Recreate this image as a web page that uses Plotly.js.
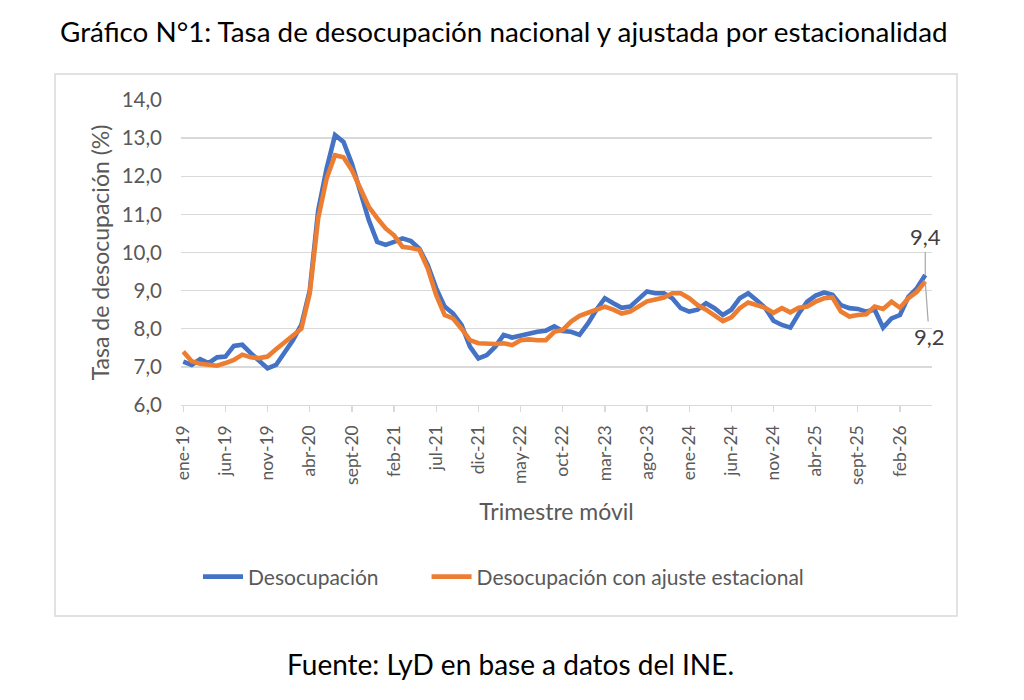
<!DOCTYPE html>
<html lang="es">
<head>
<meta charset="utf-8">
<script src="https://cdn.plot.ly/plotly-3.0.1.min.js"></script>
<style>
  html, body { margin: 0; padding: 0; background: #fff; }
  #chart { width: 1024px; height: 700px; }
</style>
</head>
<body>
<div id="chart"></div>
<script>
// Gráfico N°1 - desocupación nacional vs. ajustada por estacionalidad

const MONTHS = ["ene", "feb", "mar", "abr", "may", "jun", "jul", "ago", "sept", "oct", "nov", "dic"];
const YEARS = ["19", "20", "21", "22", "23", "24", "25", "26"];

// tasa de desocupación (%), trimestre móvil desde ene-19
const desocupacion = [
    7.14, 7.05, 7.20, 7.10, 7.25, 7.27, 7.55, 7.58, 7.36, 7.14, 6.96, 7.05,
    7.36, 7.70, 8.10, 9.00, 11.10, 12.20, 13.08, 12.90, 12.33, 11.60, 10.85, 10.28,
    10.20, 10.28, 10.37, 10.30, 10.10, 9.67, 9.06, 8.58, 8.40, 8.10, 7.53, 7.22,
    7.31, 7.53, 7.84, 7.77, 7.82, 7.90, 7.92, 7.95, 8.06, 7.94, 7.92, 7.84,
    8.14, 8.50, 8.80, 8.67, 8.55, 8.58, 8.80, 8.98, 8.93, 8.93, 8.80, 8.54,
    8.45, 8.50, 8.67, 8.54, 8.36, 8.50, 8.80, 8.93, 8.75, 8.55, 8.21, 8.10,
    8.03, 8.40, 8.71, 8.87, 8.95, 8.89, 8.62, 8.54, 8.52, 8.45, 8.50, 8.03,
    8.27, 8.36, 8.84, 9.06, 9.41
];

const ajustada = [
    7.40, 7.15, 7.08, 7.05, 7.03, 7.10, 7.18, 7.32, 7.25, 7.23, 7.27, 7.46,
    7.64, 7.80, 8.00, 8.93, 10.90, 11.94, 12.55, 12.50, 12.16, 11.68, 11.20, 10.90,
    10.63, 10.45, 10.15, 10.12, 10.07, 9.58, 8.88, 8.36, 8.27, 8.00, 7.70, 7.62,
    7.60, 7.60, 7.62, 7.57, 7.70, 7.72, 7.70, 7.70, 7.92, 7.97, 8.19, 8.34,
    8.42, 8.50, 8.58, 8.50, 8.40, 8.45, 8.58, 8.72, 8.77, 8.82, 8.93, 8.93,
    8.80, 8.62, 8.50, 8.36, 8.20, 8.30, 8.54, 8.69, 8.62, 8.55, 8.42, 8.54,
    8.43, 8.55, 8.58, 8.71, 8.80, 8.82, 8.45, 8.32, 8.36, 8.38, 8.58, 8.52,
    8.71, 8.55, 8.80, 8.97, 9.24
];

const yTickVals = [6, 7, 8, 9, 10, 11, 12, 13, 14];
const yTickText = ["6,0", "7,0", "8,0", "9,0", "10,0", "11,0", "12,0", "13,0", "14,0"];
const endLabels = ["9,4", "9,2"];

(function () {

    const BLUE = "#4472C4";
    const ORANGE = "#ED7D31";
    const GRID = "#D9D9D9";
    const TEXT = "#595959";
    const FONT = "Lato, 'Open Sans', sans-serif";
    const GAP = "\u00a0".repeat(8); // extra room between the two legend entries

    const W = 1024, H = 700;
    const M = { l: 181, r: 92, t: 100, b: 295 };
    const pw = W - M.l - M.r;
    const ph = H - M.t - M.b;
    const px = (x) => (x - M.l) / pw;
    const py = (y) => (H - M.b - y) / ph;

    const categories = [];
    YEARS.forEach((yy) => MONTHS.forEach((mm) => categories.push(mm + "-" + yy)));
    const cats = categories.slice(0, desocupacion.length);
    const tickCats = cats.filter((_, i) => i % 5 === 0);
    const last = cats.length - 1;

    const traces = [
        {
            x: cats, y: desocupacion, name: "Desocupación" + GAP,
            type: "scatter", mode: "lines",
            line: { color: BLUE, width: 4.6 },
            hoverinfo: "skip"
        },
        {
            x: cats, y: ajustada, name: "Desocupación con ajuste estacional",
            type: "scatter", mode: "lines",
            line: { color: ORANGE, width: 4.6 },
            hoverinfo: "skip"
        }
    ];

    const layout = {
        width: W,
        height: H,
        margin: M,
        paper_bgcolor: "#fff",
        plot_bgcolor: "#fff",
        font: { family: FONT, color: TEXT },
        title: {
            text: "Gráfico N°1: Tasa de desocupación nacional y ajustada por estacionalidad",
            font: { family: FONT, size: 27.8, color: "#000" },
            x: 0.492, xanchor: "center",
            y: 1 - 32 / H, yanchor: "middle", yref: "container"
        },
        showlegend: true,
        legend: {
            orientation: "h",
            x: px(198), xanchor: "left",
            y: py(577), yanchor: "middle",
            font: { size: 21, color: TEXT },
            itemwidth: 40,
            tracegroupgap: 0
        },
        xaxis: {
            type: "category",
            range: [-0.27, 88.8],
            tickmode: "array",
            tickvals: tickCats,
            ticktext: tickCats,
            tickangle: -90,
            ticks: "outside",
            ticklen: 6,
            tickcolor: GRID,
            tickwidth: 1.3,
            showline: true,
            linecolor: GRID,
            linewidth: 1.3,
            showgrid: false,
            tickfont: { size: 17.5, color: TEXT },
            ticklabelstandoff: 6,
            title: {
                text: "Trimestre móvil",
                font: { size: 23, color: TEXT },
                standoff: 20
            },
            fixedrange: true
        },
        yaxis: {
            range: [6, 14],
            tickmode: "array",
            tickvals: yTickVals,
            ticktext: yTickText,
            showgrid: true,
            gridcolor: GRID,
            gridwidth: 1.3,
            zeroline: false,
            showline: false,
            ticks: "",
            tickfont: { size: 20.5, color: TEXT },
            ticklabelstandoff: 18,
            title: {
                text: "Tasa de desocupación (%)",
                font: { size: 23, color: TEXT },
                standoff: 5
            },
            fixedrange: true
        },
        shapes: [
            {
                type: "rect", xref: "paper", yref: "paper",
                x0: px(55), x1: px(957), y0: py(616), y1: py(74),
                line: { color: GRID, width: 1.5 },
                fillcolor: "rgba(0,0,0,0)",
                layer: "below"
            }
        ],
        annotations: [
            {
                x: cats[last], y: desocupacion[last],
                text: endLabels[0],
                showarrow: true, arrowhead: 0, arrowwidth: 1.2, arrowcolor: "#A6A6A6",
                ax: 0, ay: -38,
                font: { size: 22, color: "#404040" }
            },
            {
                x: cats[last], y: ajustada[last],
                text: endLabels[1],
                showarrow: true, arrowhead: 0, arrowwidth: 1.2, arrowcolor: "#A6A6A6",
                ax: 4, ay: 55,
                font: { size: 22, color: "#404040" }
            },
            {
                xref: "paper", yref: "paper",
                x: px(510), y: py(664),
                text: "Fuente: LyD en base a datos del INE.",
                showarrow: false,
                xanchor: "center", yanchor: "middle",
                font: { size: 28, color: "#000" }
            }
        ]
    };

    Plotly.newPlot("chart", traces, layout, { displayModeBar: false, staticPlot: true });

})();
</script>
</body>
</html>
